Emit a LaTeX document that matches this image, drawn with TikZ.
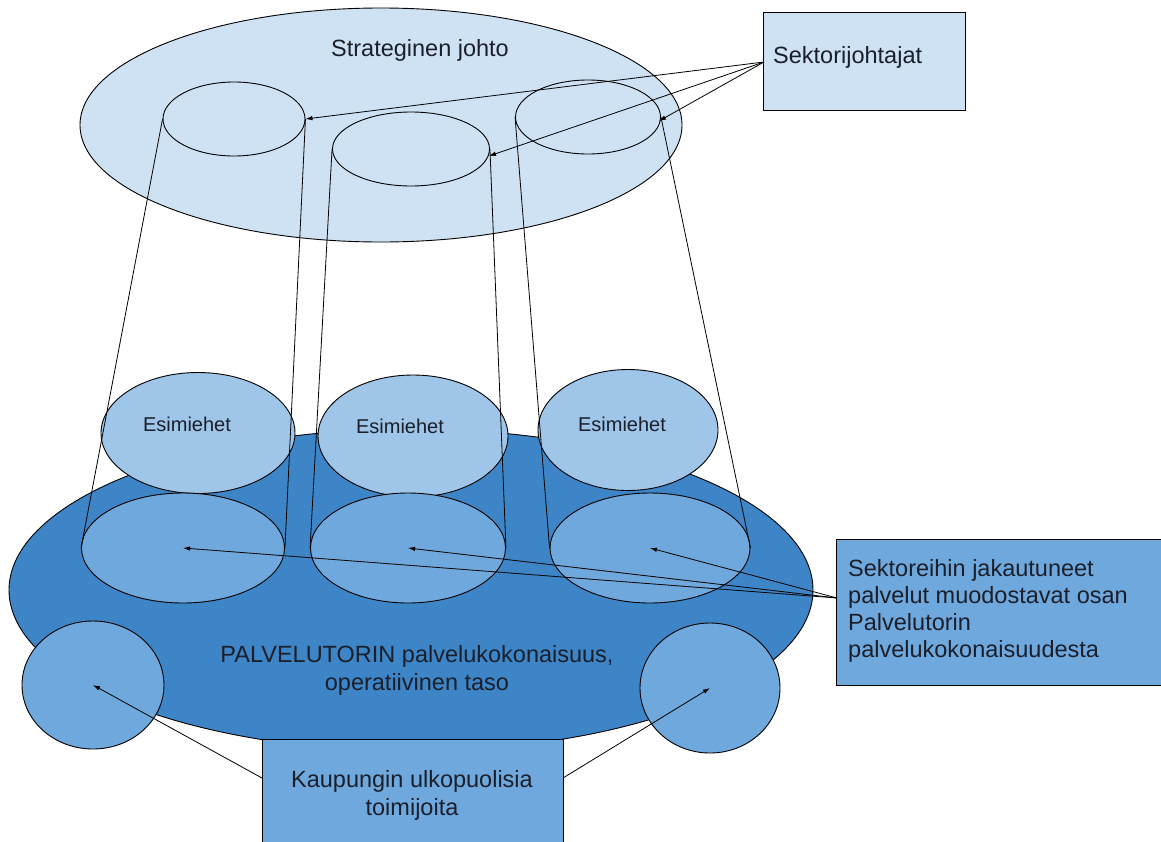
\documentclass[tikz,border=0pt]{standalone}
\usepackage{fontspec}
\setmainfont{Liberation Sans}
\usetikzlibrary{shapes.geometric,arrows.meta}
\definecolor{paleblue}{HTML}{CFE2F3}
\definecolor{lightblue}{HTML}{9FC5E8}
\definecolor{midblue}{HTML}{6FA8DC}
\definecolor{deepblue}{HTML}{3D85C6}
\definecolor{ink}{HTML}{1A1F2B}
\tikzset{
  oval/.style={ellipse, draw=black, line width=0.9pt, inner sep=0pt},
  infobox/.style={rectangle, draw=black, line width=0.9pt, inner sep=0pt},
  pointer/.style={line width=0.8pt, -{Latex[length=7pt,width=4.5pt]}},
  rim/.style={line width=0.8pt},
  lbl/.style={font=\fontsize{23.5}{27}\selectfont, text=ink, inner sep=0pt, anchor=base},
  lblL/.style={lbl, anchor=base west},
  small/.style={lbl, font=\fontsize{20}{24}\selectfont}
}
\begin{document}
\begin{tikzpicture}[x=1pt,y=-1pt]
\useasboundingbox (0,0) rectangle (1161,841);
\begin{scope}
\clip (0,0) rectangle (1161,841);
% strategic level
\node[oval, fill=paleblue, minimum width=602, minimum height=234] (top) at (381,125) {};
\node[lbl] (toptxt) at (420,56) {Strateginen johto};
\node[oval, fill=paleblue, minimum width=142, minimum height=74] (t1) at (234,119) {};
\node[oval, fill=paleblue, minimum width=157, minimum height=74] (t2) at (411,149) {};
\node[oval, fill=paleblue, minimum width=145, minimum height=74] (t3) at (588,117) {};
% operative level
\node[oval, fill=deepblue, minimum width=804, minimum height=322] (base) at (411,590) {};
\node[oval, fill=lightblue, minimum width=194, minimum height=121] (m1) at (198,433) {};
\node[oval, fill=lightblue, minimum width=190, minimum height=122] (m2) at (413,436) {};
\node[oval, fill=lightblue, minimum width=180, minimum height=121] (m3) at (628,430) {};
\node[small] at (187,431) {Esimiehet};
\node[small] at (400,433) {Esimiehet};
\node[small] at (622,431) {Esimiehet};
\node[oval, fill=midblue, minimum width=203, minimum height=110] (b1) at (183,548) {};
\node[oval, fill=midblue, minimum width=195, minimum height=110] (b2) at (408,548) {};
\node[oval, fill=midblue, minimum width=200, minimum height=110] (b3) at (650,548) {};
\node[lbl] at (417,662) {PALVELUTORIN palvelukokonaisuus,};
\node[lbl] at (417,690) {operatiivinen taso};
\node[oval, fill=midblue, minimum width=142, minimum height=128] (s1) at (93,685) {};
\node[oval, fill=midblue, minimum width=140, minimum height=130] (s2) at (710,688) {};
% cylinder walls
\draw[rim] (t1.west) -- (b1.west) (t1.east) -- (b1.east);
\draw[rim] (t2.west) -- (b2.west) (t2.east) -- (b2.east);
\draw[rim] (t3.west) -- (b3.west) (t3.east) -- (b3.east);
% callout boxes
\node[infobox, fill=paleblue, minimum width=202, minimum height=98] (sek) at (864,61) {};
\node[lblL] at (773,63) {Sektorijohtajat};
\node[infobox, fill=midblue, minimum width=325, minimum height=146] (srv) at (998.5,612) {};
\node[lblL] at (848,576) {Sektoreihin jakautuneet};
\node[lblL] at (848,603) {palvelut muodostavat osan};
\node[lblL] at (848,630) {Palvelutorin};
\node[lblL] at (848,657) {palvelukokonaisuudesta};
\node[infobox, fill=midblue, minimum width=301, minimum height=110] (ext) at (412.5,794) {};
\node[lbl] at (412,787) {Kaupungin ulkopuolisia};
\node[lbl] at (412,815) {toimijoita};
% pointers
\coordinate (sekL) at (764,62);
\draw[pointer] (sekL) -- (t1.east);
\draw[pointer] (sekL) -- ([xshift=-1pt,yshift=-7pt]t2.east);
\draw[pointer] (sekL) -- ([xshift=-2pt,yshift=-4pt]t3.east);
\coordinate (srvL) at (837,598);
\draw[pointer] (srvL) -- (b1.center);
\draw[pointer] (srvL) -- (b2.center);
\draw[pointer] (srvL) -- (b3.center);
\coordinate (extL) at (262,778);
\coordinate (extR) at (563,778);
\draw[pointer] (extL) -- (s1.center);
\draw[pointer] (extR) -- (s2.center);
\end{scope}
\end{tikzpicture}
\end{document}
